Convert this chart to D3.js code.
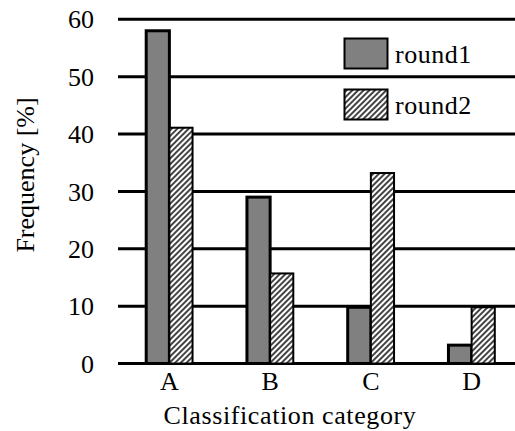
<!DOCTYPE html>
<html>
<head>
<meta charset="utf-8">
<script src="https://cdn.jsdelivr.net/npm/d3@7"></script>
<style>
  html, body { margin: 0; padding: 0; background: #fff; }
  svg { display: block; }
</style>
</head>
<body>
<svg id="chart" width="515" height="431"></svg>
<script>
const categories = ["A", "B", "C", "D"];
const seriesNames = ["round1", "round2"];
const round1 = [58, 29, 9.8, 3.2];
const round2 = [41.1, 15.7, 33.2, 9.8];
const yTicks = [0, 10, 20, 30, 40, 50, 60];

const FONT = "Liberation Serif";
const svg = d3.select("#chart");

const defs = svg.append("defs");
const pat = defs.append("pattern")
  .attr("id", "hatch").attr("patternUnits", "userSpaceOnUse")
  .attr("width", 4).attr("height", 4)
  .attr("patternTransform", "rotate(45)");
pat.append("rect").attr("width", 4).attr("height", 4).attr("fill", "#fff");
pat.append("line").attr("x1", 1).attr("y1", 0).attr("x2", 1).attr("y2", 4)
  .attr("stroke", "#444").attr("stroke-width", 2);

const x = d3.scaleBand().domain(categories).range([119, 522])
  .paddingInner(0.54).paddingOuter(0.27);
const xs = d3.scaleBand().domain(seriesNames).range([0, x.bandwidth()]);
const y = d3.scaleLinear().domain([0, 60]).range([363.5, 19.3]);

// gridlines (including baseline)
svg.append("g").selectAll("line").data(yTicks).join("line")
  .attr("x1", 118).attr("x2", 522)
  .attr("y1", d => y(d)).attr("y2", d => y(d))
  .attr("stroke", "#000").attr("stroke-width", 3);

// y tick labels
svg.append("g").selectAll("text").data(yTicks).join("text")
  .attr("font-family", FONT)
  .attr("x", 94).attr("y", d => y(d))
  .attr("dy", "0.35em").attr("text-anchor", "end")
  .attr("font-size", 26).text(d => d);

const data = categories.map((c, i) => ({ c, vals: [round1[i], round2[i]] }));

const groups = svg.append("g").selectAll("g").data(data).join("g")
  .attr("transform", d => `translate(${x(d.c)},0)`);

groups.selectAll("rect").data(d => d.vals.map((v, j) => ({ s: seriesNames[j], v })))
  .join("rect")
  .attr("x", d => xs(d.s))
  .attr("width", xs.bandwidth())
  .attr("y", d => y(d.v))
  .attr("height", d => y(0) - y(d.v))
  .attr("fill", d => d.s === "round1" ? "#808080" : "url(#hatch)")
  .attr("stroke", "#000")
  .attr("stroke-width", d => d.s === "round1" ? 3 : 2);

// x labels
svg.append("g").selectAll("text").data(categories).join("text")
  .attr("font-family", FONT)
  .attr("x", d => x(d) + x.bandwidth() / 2)
  .attr("y", 390).attr("text-anchor", "middle")
  .attr("font-size", 26).text(d => d);

// axis titles
svg.append("text").attr("font-family", FONT)
  .attr("x", 290).attr("y", 424)
  .attr("text-anchor", "middle").attr("font-size", 26)
  .attr("letter-spacing", 0.6)
  .text("Classification category");

svg.append("text").attr("font-family", FONT)
  .attr("transform", "translate(33.5,175) rotate(-90)")
  .attr("text-anchor", "middle").attr("font-size", 26)
  .text("Frequency [%]");

// legend
const legend = svg.append("g");
const legY = [38.5, 89.5];
seriesNames.forEach((s, i) => {
  legend.append("rect")
    .attr("x", 344.5).attr("y", legY[i])
    .attr("width", 43).attr("height", 30)
    .attr("fill", s === "round1" ? "#808080" : "url(#hatch)")
    .attr("stroke", "#000").attr("stroke-width", 2);
  legend.append("text").attr("font-family", FONT)
    .attr("x", 395).attr("y", legY[i] + 15)
    .attr("dy", "0.35em").attr("font-size", 26)
    .attr("letter-spacing", 0.5)
    .text(s);
});
</script>
</body>
</html>
